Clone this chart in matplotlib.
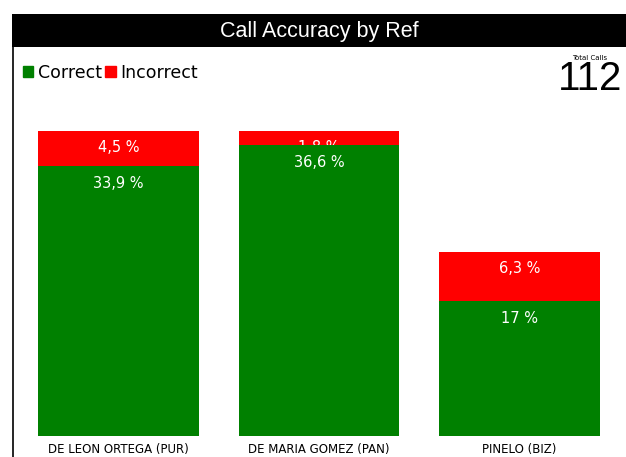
import numpy as np
import matplotlib.pyplot as plt
from matplotlib.patches import Patch, Rectangle
from matplotlib.lines import Line2D
from decimal import Decimal, ROUND_HALF_UP

refs = ['DE LEON ORTEGA (PUR)', 'DE MARIA GOMEZ (PAN)', 'PINELO (BIZ)']
correct = [38, 41, 19]
incorrect = [5, 2, 7]
total_calls = 112


def pct_label(v):
    p = Decimal(v * 100) / Decimal(total_calls)
    p = p.quantize(Decimal('0.1'), rounding=ROUND_HALF_UP)
    s = str(p).rstrip('0').rstrip('.')
    return s.replace('.', ',') + ' %'


W, H = 626, 457
fig = plt.figure(figsize=(W / 100, H / 100), dpi=100)

# title bar and left border
fig.patches.append(Rectangle((12 / W, 1 - 47 / H), 1, 33 / H, transform=fig.transFigure,
                             facecolor='black', edgecolor='none'))
fig.lines.append(Line2D([12.5 / W, 12.5 / W], [0, 1 - 47 / H], transform=fig.transFigure,
                        color='black', lw=1.2))
fig.text((12 + 626) / 2 / W, 1 - 31 / H, 'Call Accuracy by Ref', color='white',
         fontsize=15.5, family='Liberation Sans', ha='center', va='center')

ax = fig.add_axes([18 / W, 1 - 436 / H, (620 - 18) / W, (436 - 131) / H])
x = np.arange(len(refs))

ax.bar(x, correct, width=0.8, color='#008000', zorder=2)
ax.bar(x, incorrect, width=0.8, bottom=correct, color='#ff0000', zorder=1)
for i in range(len(refs)):
    top_c = correct[i]
    top_i = correct[i] + incorrect[i]
    ax.annotate(pct_label(correct[i]), (x[i], top_c), xytext=(0, -17), textcoords='offset pixels',
                ha='center', va='center', color='white', fontsize=10.5, zorder=3)
    ax.annotate(pct_label(incorrect[i]), (x[i], top_i), xytext=(0, -17), textcoords='offset pixels',
                ha='center', va='center', color='white', fontsize=10.5, zorder=1.5)

ax.set_xlim(-0.5, 2.5)
ax.set_ylim(0, 43)
ax.set_yticks([])
ax.set_xticks(x)
ax.set_xticklabels(refs, fontsize=8.5, fontweight='medium')
ax.tick_params(axis='x', length=0, pad=5)
for s in ax.spines.values():
    s.set_visible(False)

handles = [Patch(color='#008000', label='Correct'), Patch(color='#ff0000', label='Incorrect')]
fig.legend(handles=handles, loc='center left', bbox_to_anchor=(23 / W, 1 - 73 / H), ncol=2,
           frameon=False, fontsize=12.5, handlelength=0.6, handleheight=0.6,
           handletextpad=0.25, columnspacing=0.2, borderaxespad=0, borderpad=0)

fig.text(590 / W, 1 - 58 / H, 'Total Calls', fontsize=5, ha='center', va='center')
fig.text(590 / W, 1 - 79 / H, str(total_calls), fontsize=29, ha='center', va='center',
         family='Liberation Sans')

fig.savefig('out.png', dpi=100)
